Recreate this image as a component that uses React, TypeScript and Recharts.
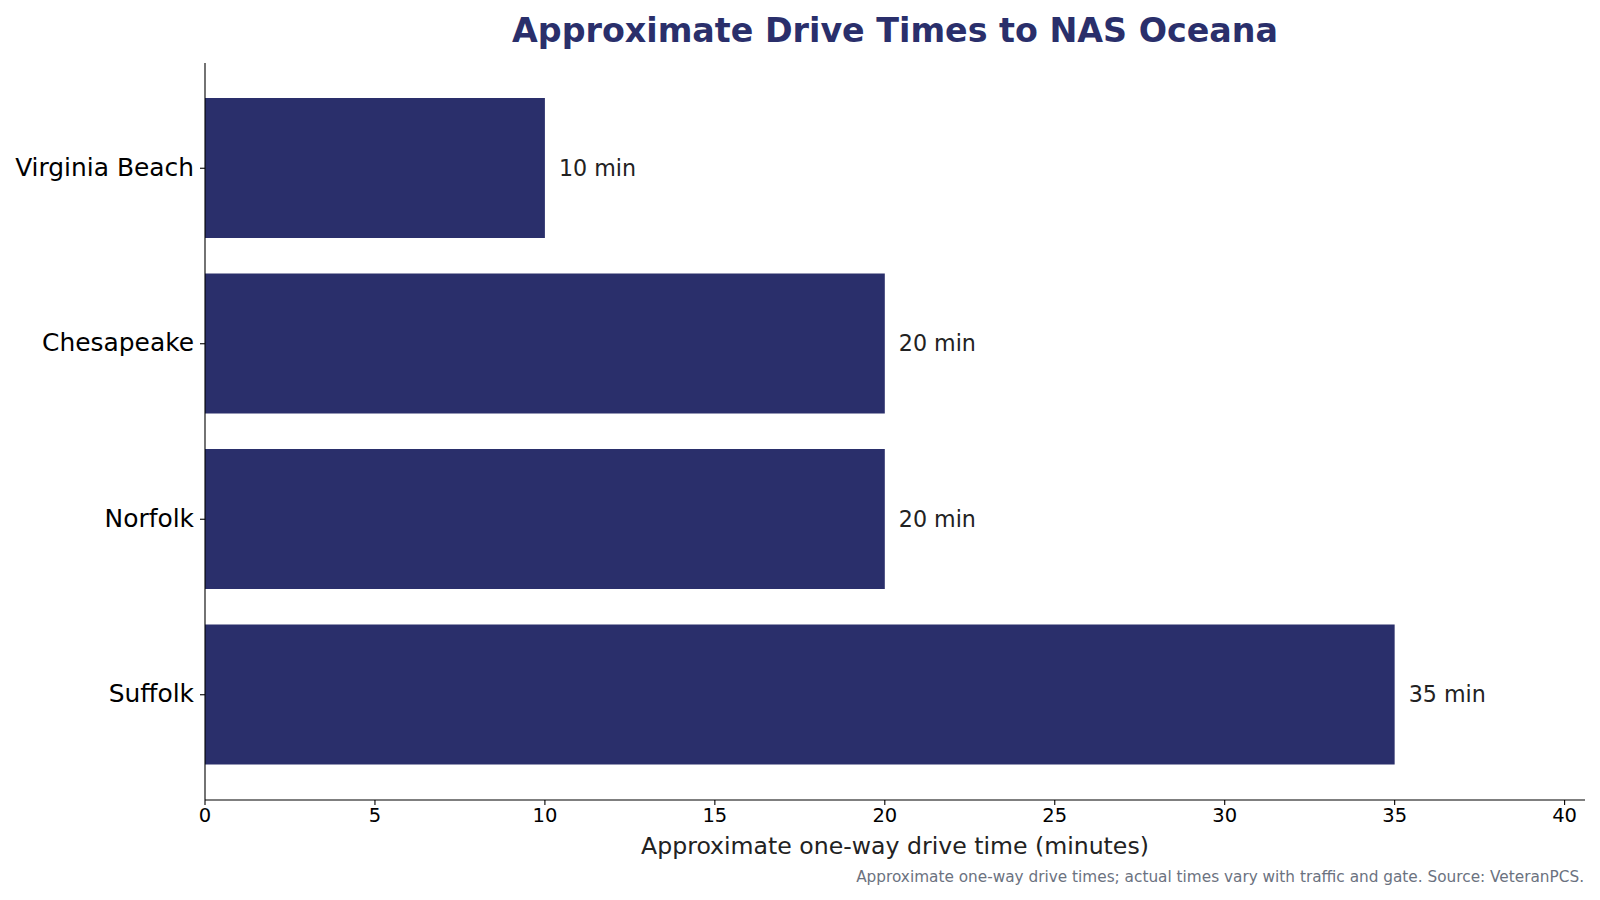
import { Bar, BarChart, LabelList, XAxis, YAxis } from "recharts"

const cities = ["Virginia Beach", "Chesapeake", "Norfolk", "Suffolk"]
const minutes = [10, 20, 20, 35]
const xTicks = [0, 5, 10, 15, 20, 25, 30, 35, 40]

const data = cities.map((name, i) => ({ name, minutes: minutes[i] }))

const NAVY = "#2a2f6b"
const FONT = "'DejaVu Sans', sans-serif"

export default function App() {
  return (
    <div style={{ position: "absolute", left: 0, top: 0, width: 1600, height: 900, background: "#fff", fontFamily: FONT }}>
      <div
        style={{
          position: "absolute",
          left: 205,
          width: 1380,
          top: 11,
          textAlign: "center",
          fontSize: 33.3,
          lineHeight: "40px",
          fontWeight: "bold",
          color: NAVY,
        }}
      >
        Approximate Drive Times to NAS Oceana
      </div>
      <BarChart
        width={1600}
        height={900}
        data={data}
        layout="vertical"
        barCategoryGap="10%"
        margin={{ top: 63, right: 15, bottom: 40, left: 5 }}
      >
        <XAxis
          type="number"
          domain={[0, 40.6]}
          ticks={xTicks}
          tickSize={5}
          tickMargin={3}
          height={60}
          stroke="#000"
          strokeWidth={1.1}
          tick={{ fill: "#000", fontSize: 19.5, fontFamily: FONT }}
          label={{
            value: "Approximate one-way drive time (minutes)",
            position: "insideBottom",
            offset: 6,
            fill: "#222",
            fontSize: 23.6,
            fontFamily: FONT,
          }}
        />
        <YAxis
          type="category"
          dataKey="name"
          width={200}
          tickSize={5}
          tickMargin={6}
          stroke="#000"
          strokeWidth={1.1}
          padding={{ top: 17.5, bottom: 17.5 }}
          tick={{ fill: "#000", fontSize: 24.9, fontFamily: FONT, dy: -1.5 }}
        />
        <Bar dataKey="minutes" fill={NAVY} isAnimationActive={false}>
          <LabelList
            dataKey="minutes"
            position="right"
            offset={14}
            formatter={(v: number) => `${v} min`}
            style={{ fill: "#222", fontSize: 22.2, fontFamily: FONT }}
          />
        </Bar>
      </BarChart>
      <div
        style={{
          position: "absolute",
          right: 16,
          top: 867,
          fontSize: 15.3,
          lineHeight: "20px",
          color: "#6b7280",
        }}
      >
        Approximate one-way drive times; actual times vary with traffic and gate. Source: VeteranPCS.
      </div>
    </div>
  )
}
